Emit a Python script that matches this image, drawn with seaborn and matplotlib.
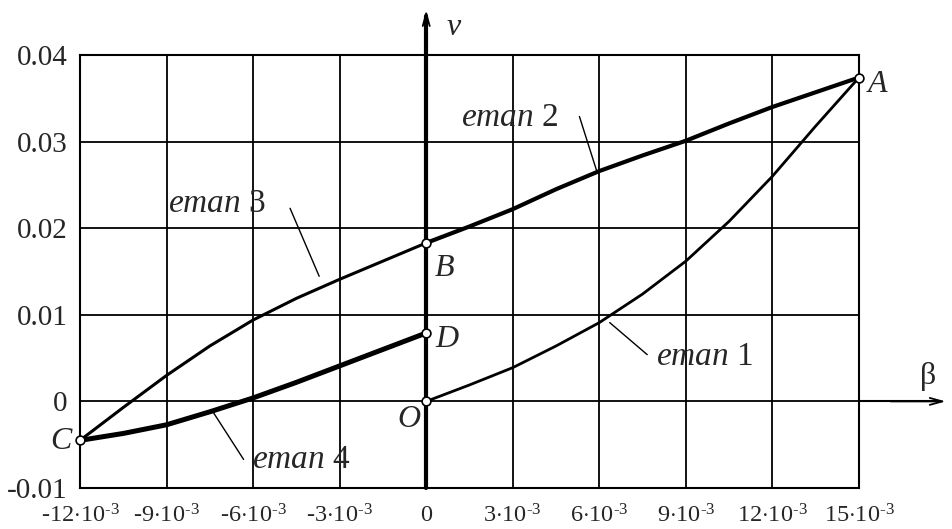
import matplotlib
matplotlib.use("Agg")
import matplotlib.pyplot as plt
import seaborn as sns
import pandas as pd

# Hysteresis loop branches (beta, v)
beta_1 = [0.0, 0.0015, 0.003, 0.0045, 0.006, 0.0075, 0.009, 0.0105, 0.012, 0.0135, 0.015]
v_1 = [0.0, 0.0019, 0.0039, 0.0064, 0.0091, 0.0124, 0.0162, 0.0208, 0.0260, 0.0318, 0.0374]

beta_2 = [0.0, 0.0015, 0.003, 0.0045, 0.006, 0.0075, 0.009, 0.0105, 0.012, 0.0135, 0.015]
v_2 = [0.0183, 0.0202, 0.0222, 0.0245, 0.0266, 0.0284, 0.0301, 0.0321, 0.0340, 0.0357, 0.0374]

beta_3 = [-0.012, -0.0105, -0.009, -0.0075, -0.006, -0.0045, -0.003, -0.0015, 0.0]
v_3 = [-0.0045, -0.0007, 0.0030, 0.0064, 0.0094, 0.0119, 0.0141, 0.0162, 0.0183]

beta_4 = [-0.012, -0.0105, -0.009, -0.0075, -0.006, -0.0045, -0.003, -0.0015, 0.0]
v_4 = [-0.0045, -0.0037, -0.0027, -0.0012, 0.0004, 0.0022, 0.0041, 0.0060, 0.0079]

# Named points of the loop
point_names = ["A", "B", "C", "D", "O"]
point_beta = [0.015, 0.0, -0.012, 0.0, 0.0]
point_v = [0.0374, 0.0183, -0.0045, 0.0079, 0.0]

x_ticks = [-0.012, -0.009, -0.006, -0.003, 0.0, 0.003, 0.006, 0.009, 0.012, 0.015]
x_tick_labels = [r"$\text{-12}{\cdot}10^{\text{-3}}$", r"$\text{-9}{\cdot}10^{\text{-3}}$",
                 r"$\text{-6}{\cdot}10^{\text{-3}}$", r"$\text{-3}{\cdot}10^{\text{-3}}$",
                 r"$0$", r"$3{\cdot}10^{\text{-3}}$", r"$6{\cdot}10^{\text{-3}}$",
                 r"$9{\cdot}10^{\text{-3}}$", r"$12{\cdot}10^{\text{-3}}$",
                 r"$15{\cdot}10^{\text{-3}}$"]
y_ticks = [-0.01, 0.0, 0.01, 0.02, 0.03, 0.04]
y_tick_labels = ["-0.01", "0", "0.01", "0.02", "0.03", "0.04"]

sns.set_style("white")
plt.rcParams["font.family"] = ["Liberation Serif", "DejaVu Serif"]
plt.rcParams["mathtext.fontset"] = "custom"
plt.rcParams["mathtext.rm"] = "Liberation Serif"
plt.rcParams["mathtext.it"] = "Liberation Serif:italic"

fig = plt.figure(figsize=(9.53, 5.29), dpi=100)
ax = fig.add_axes([80 / 953, 1 - 488 / 529, (859 - 80) / 953, (488 - 55) / 529])

ax.set_xlim(-0.012, 0.015)
ax.set_ylim(-0.01, 0.04)
ax.set_xticks(x_ticks)
ax.set_xticklabels(x_tick_labels, fontsize=17.5)
ax.set_yticks(y_ticks)
ax.set_yticklabels(y_tick_labels, fontsize=21)
ax.tick_params(axis="x", length=0, pad=12)
ax.tick_params(axis="y", length=0, pad=9)
ax.grid(True, color="black", lw=1.3)
ax.set_axisbelow(True)
for s in ax.spines.values():
    s.set_color("black")
    s.set_linewidth(1.5)

branches = [
    ("eman 1", beta_1, v_1, 2.0),
    ("eman 2", beta_2, v_2, 3.0),
    ("eman 3", beta_3, v_3, 2.2),
    ("eman 4", beta_4, v_4, 3.6),
]
for name, b, v, w in branches:
    df = pd.DataFrame({"beta": b, "v": v})
    sns.lineplot(data=df, x="beta", y="v", sort=False, color="black", lw=w,
                 ax=ax, zorder=4)

# Coordinate axes with arrows
ax.plot([0, 0], [-0.01, 0.0445], color="black", lw=3, clip_on=False, zorder=3)
ax.annotate("", xy=(0, 0.0455), xytext=(0, 0.042),
            arrowprops=dict(arrowstyle="->,head_length=0.9,head_width=0.25",
                            lw=1.3, color="black"), annotation_clip=False)
ax.plot([0.015, 0.0178], [0, 0], color="black", lw=1.5, clip_on=False)
ax.annotate("", xy=(0.0181, 0), xytext=(0.016, 0),
            arrowprops=dict(arrowstyle="->,head_length=0.9,head_width=0.25",
                            lw=1.3, color="black"), annotation_clip=False)

pts = pd.DataFrame({"beta": point_beta, "v": point_v, "name": point_names})
sns.scatterplot(data=pts, x="beta", y="v", marker="o", s=40, facecolor="white",
                edgecolor="black", linewidth=1.2, ax=ax, zorder=5, clip_on=False)

ax.set_xlabel("")
ax.set_ylabel("")

letter_kw = dict(fontsize=23, style="italic", va="center")
ax.text(0.0153, 0.0366, "A", ha="left", **letter_kw)
ax.text(0.0003, 0.0153, "B", ha="left", **letter_kw)
ax.text(0.0003, 0.0072, "D", ha="left", **letter_kw)
ax.text(-0.0002, -0.0021, "O", ha="right", **letter_kw)
ax.text(-0.0123, -0.0046, "C", ha="right", **letter_kw)
ax.text(0.0007, 0.0432, "v", ha="left", clip_on=False, **letter_kw)
ax.text(0.0171, 0.0029, "β", ha="left", va="center", fontsize=23)

# Branch labels with leader lines
labels = [
    ("1", (0.00795, 0.0052), [(0.00636, 0.0091), (0.00766, 0.0054)]),
    ("2", (0.00122, 0.0328), [(0.00531, 0.0329), (0.00591, 0.0266)]),
    ("3", (-0.00895, 0.0228), [(-0.00472, 0.0223), (-0.00371, 0.01445)]),
    ("4", (-0.00605, -0.0067), [(-0.00738, -0.00127), (-0.00633, -0.0067)]),
]
for num, (tx, ty), ((x0, y0), (x1, y1)) in labels:
    ax.text(tx, ty, r"$\mathit{eman}$ " + num, ha="left", va="center", fontsize=24)
    ax.plot([x0, x1], [y0, y1], color="black", lw=1.0)

fig.savefig("out.png", dpi=100)
